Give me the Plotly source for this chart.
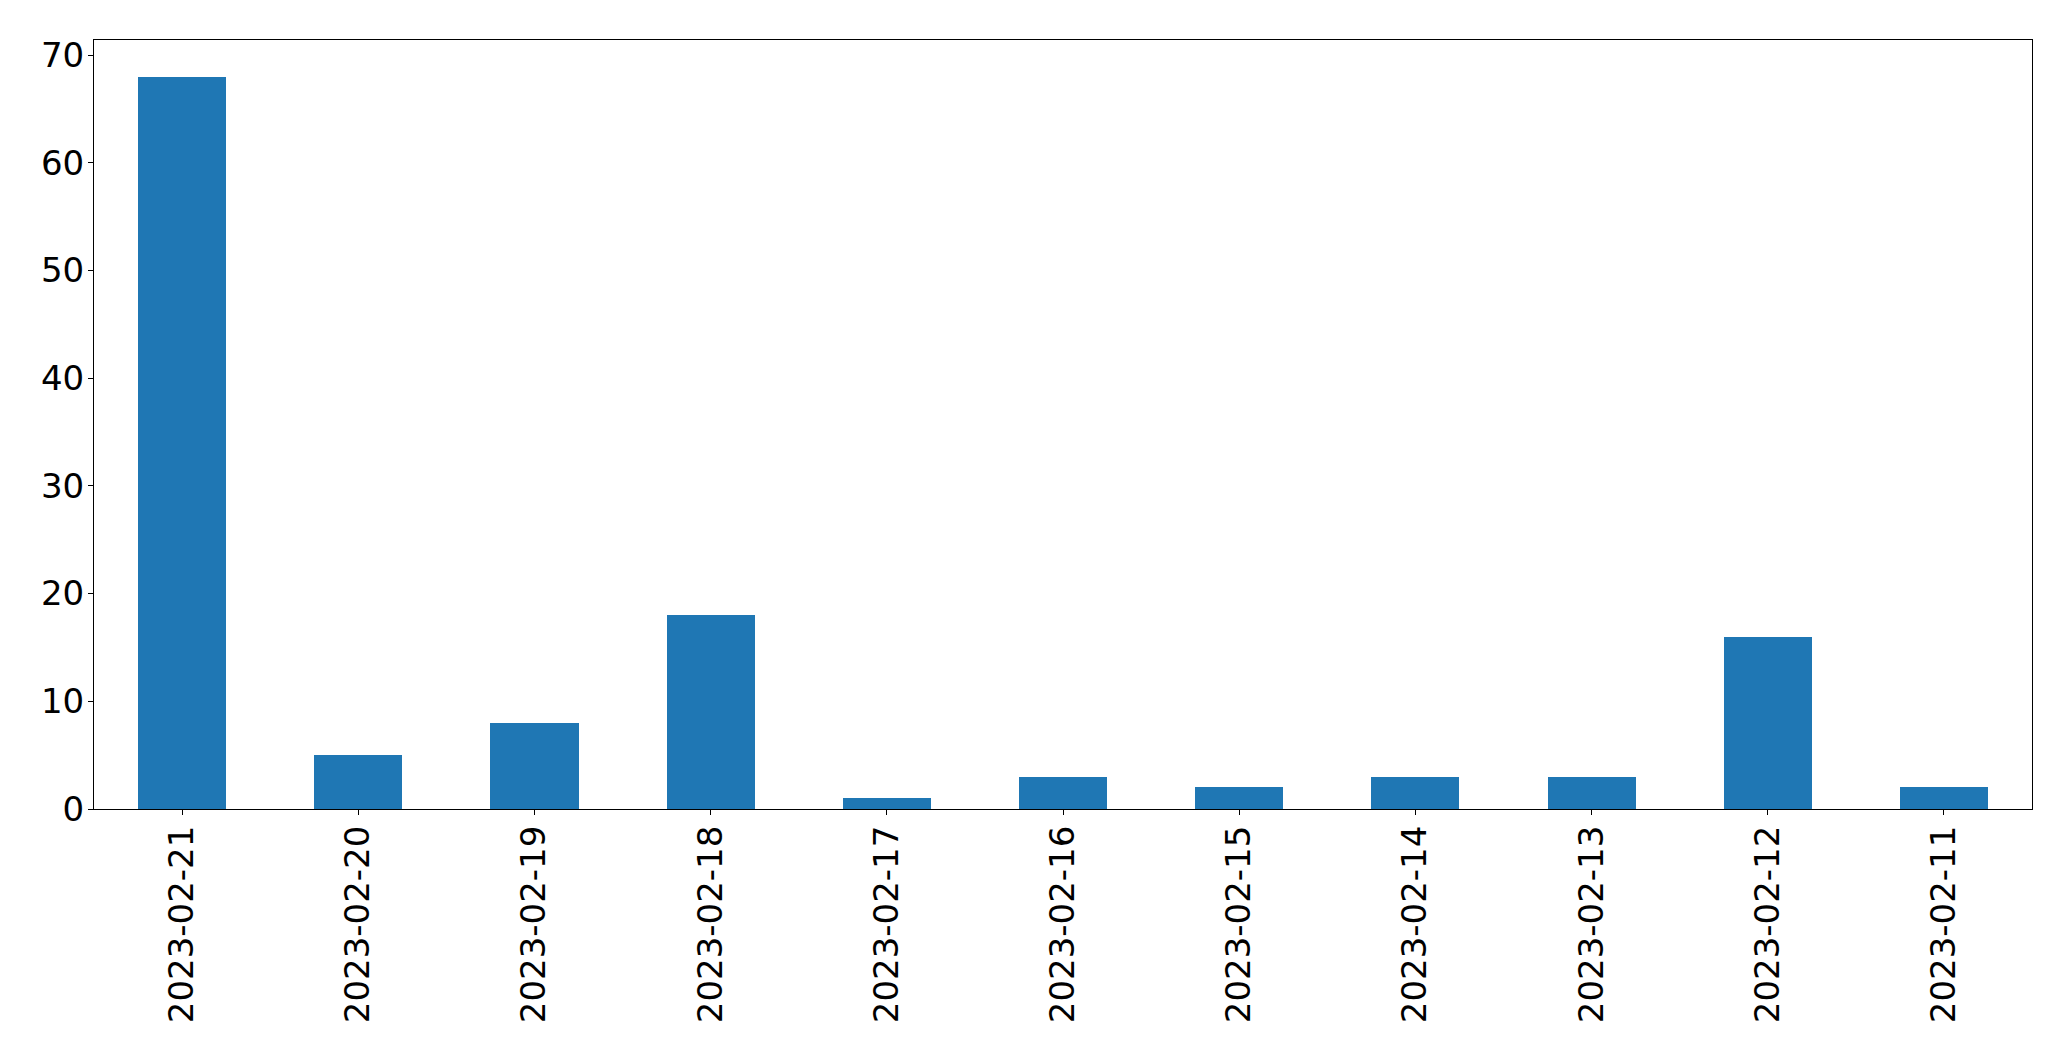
import plotly.graph_objects as go

dates = ["2023-02-21", "2023-02-20", "2023-02-19", "2023-02-18", "2023-02-17",
         "2023-02-16", "2023-02-15", "2023-02-14", "2023-02-13", "2023-02-12",
         "2023-02-11"]
counts = [68, 5, 8, 18, 1, 3, 2, 3, 3, 16, 2]
y_ticks = [0, 10, 20, 30, 40, 50, 60, 70]

fig = go.Figure(go.Bar(x=dates, y=counts, marker=dict(color="#1f77b4", line=dict(width=0)), width=0.5))

axis_common = dict(showline=True, linecolor="black", linewidth=1.1, mirror=True,
                   ticks="outside", ticklen=5, tickwidth=1.1, tickcolor="black",
                   showgrid=False, zeroline=False, ticklabelstandoff=-3,
                   tickfont=dict(family="DejaVu Sans", size=34, color="black"))

fig.update_layout(
    width=2063, height=1053,
    margin=dict(l=86, r=39, t=32, b=252),
    plot_bgcolor="white", paper_bgcolor="white",
    showlegend=False,
    bargap=0,
    xaxis=dict(type="category", range=[-0.5, 10.5], tickangle=-90, **axis_common),
    yaxis=dict(range=[0, 71.4], tickvals=y_ticks, **axis_common),
)

fig.write_html("out.html")
